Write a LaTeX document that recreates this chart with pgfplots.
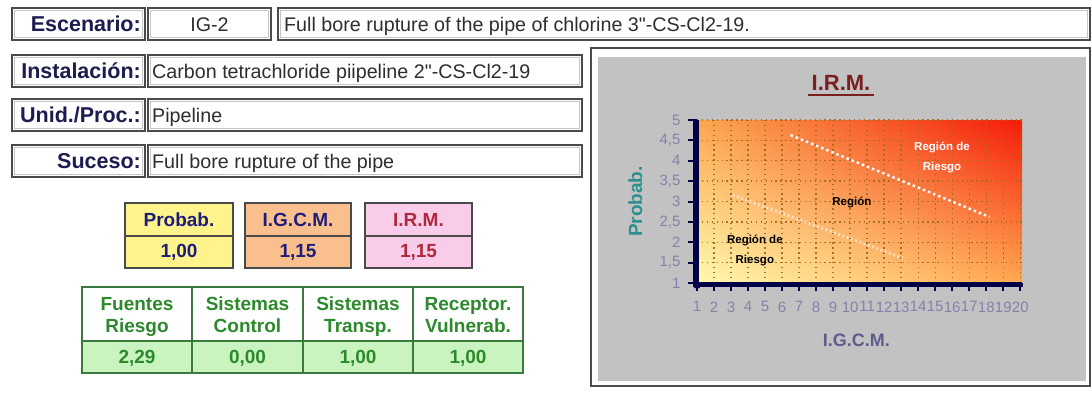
\documentclass[border=0pt]{standalone}
\usepackage{fontspec}
\setmainfont{Liberation Sans}
\newfontfamily\valf[Ligatures=TeXOff]{Liberation Sans}
\usepackage{pgfplots}
\pgfplotsset{compat=1.18}
\usetikzlibrary{shadings}
\colorlet{axisblue}{blue!28!black}
\definecolor{labnavy}{HTML}{1C1C50}
\definecolor{valtext}{HTML}{2E2E2E}
\definecolor{boxgray}{HTML}{4A4A4A}
\definecolor{probnavy}{HTML}{1E1E7A}
\definecolor{irmred}{HTML}{B0283C}
\definecolor{greentext}{HTML}{2C8A2C}
\definecolor{greenline}{HTML}{3D7A3D}
\definecolor{greenfill}{HTML}{C9F4C0}
\definecolor{yellowfill}{HTML}{FFF38C}
\definecolor{orangefill}{HTML}{F9C08E}
\definecolor{pinkfill}{HTML}{F9CDEA}
\definecolor{chartgray}{HTML}{C2C2C2}
\definecolor{titlered}{HTML}{7A1E1E}
\definecolor{tealc}{HTML}{2F8F8F}
\definecolor{xlabc}{HTML}{5C5C8E}
\definecolor{tickc}{HTML}{8282AC}
\definecolor{gridc}{rgb}{0.66,0.42,0.10}
\definecolor{bgll}{HTML}{FFFBB0}
\definecolor{bgul}{HTML}{FBA850}
\definecolor{bglr}{HTML}{FFA850}
\definecolor{bgur}{HTML}{F51A0A}
\newcommand\formbox[4]{%
  \draw[line width=2pt, draw=boxgray] (#1,#2) rectangle (#3,#4);
  \draw[line width=0.6pt, draw=gray!45] ({#1+2.5},{#2+2.5}) rectangle ({#3-2.5},{#4-2.5});}
\begin{document}
\begin{tikzpicture}
\begin{scope}[x=1pt,y=-1pt]
\path[use as bounding box, fill=white] (0,0) rectangle (1092,392);
\tikzset{lab/.style={font=\bfseries\fontsize{21.5}{24}\selectfont, text=labnavy, inner sep=0pt},
         val/.style={font=\valf\fontsize{19.7}{22}\selectfont, text=valtext, inner sep=0pt},
         sm/.style={font=\bfseries\fontsize{19}{20}\selectfont, inner sep=0pt},
         gr/.style={font=\bfseries\fontsize{19}{20}\selectfont, text=greentext, inner sep=0pt}}
% row 1
\formbox{12}{8}{145}{40}
\formbox{148}{8}{271}{40}
\formbox{278}{8}{1090}{40}
\node[lab, anchor=base east] at (141,31) {Escenario:};
\node[val, anchor=base] at (209.5,31) {IG-2};
\node[val, anchor=base west] at (284,31) {Full bore rupture of the pipe of chlorine 3"-CS-Cl2-19.};
% row 2
\formbox{12}{55}{145}{87}
\formbox{148}{55}{582}{87}
\node[lab, anchor=base east] at (141,78) {Instalación:};
\node[val, anchor=base west] at (152,78) {Carbon tetrachloride piipeline 2"-CS-Cl2-19};
% row 3
\formbox{12}{99}{145}{131}
\formbox{148}{99}{582}{131}
\node[lab, anchor=base east] at (141,122) {Unid./Proc.:};
\node[val, anchor=base west] at (152,122) {Pipeline};
% row 4
\formbox{12}{145}{145}{177}
\formbox{148}{145}{582}{177}
\node[lab, anchor=base east] at (141,168) {Suceso:};
\node[val, anchor=base west] at (152,168) {Full bore rupture of the pipe};
% index boxes
\fill[yellowfill] (125,203) rectangle (233,268);
\fill[orangefill] (245,203) rectangle (351,268);
\fill[pinkfill] (365,203) rectangle (472,268);
\foreach \a/\b in {125/233,245/351,365/472}{
  \draw[line width=2pt, draw=boxgray] (\a,203) rectangle (\b,268);
  \draw[line width=1.5pt, draw=boxgray] (\a,236) -- (\b,236);}
\node[sm, text=probnavy, anchor=base] at (179,226) {Probab.};
\node[sm, text=probnavy, anchor=base] at (179,257.5) {1,00};
\node[sm, text=probnavy, anchor=base] at (298,226) {I.G.C.M.};
\node[sm, text=probnavy, anchor=base] at (298,257.5) {1,15};
\node[sm, text=irmred, anchor=base] at (418.5,226) {I.R.M.};
\node[sm, text=irmred, anchor=base] at (418.5,257.5) {1,15};
% lower table
\fill[greenfill] (82,341) rectangle (523,373);
\draw[line width=2pt, draw=greenline] (82,287) rectangle (523,373);
\draw[line width=1.5pt, draw=greenline] (82,341) -- (523,341);
\foreach \x in {192,303,413} \draw[line width=1.5pt, draw=greenline] (\x,287) -- (\x,373);
\node[gr, anchor=base] at (137,310) {Fuentes};
\node[gr, anchor=base] at (137,332) {Riesgo};
\node[gr, anchor=base] at (247.5,310) {Sistemas};
\node[gr, anchor=base] at (247.5,332) {Control};
\node[gr, anchor=base] at (358,310) {Sistemas};
\node[gr, anchor=base] at (358,332) {Transp.};
\node[gr, anchor=base] at (468,310) {Receptor.};
\node[gr, anchor=base] at (468,332) {Vulnerab.};
\node[gr, anchor=base] at (137,363.5) {2,29};
\node[gr, anchor=base] at (247.5,363.5) {0,00};
\node[gr, anchor=base] at (358,363.5) {1,00};
\node[gr, anchor=base] at (468,363.5) {1,00};
% chart panel
\draw[line width=1.5pt, draw=gray!60!black] (591,48) rectangle (1090,386);
\fill[chartgray] (598,57) rectangle (1086,381);
\node[font=\bfseries\fontsize{22}{24}\selectfont, text=titlered, anchor=base, inner sep=0pt] at (841,90.5) {I.R.M.};
\draw[line width=1.3pt, draw=titlered] (808,95) -- (874,95);
% axis frame lines (drawn under the axis, slightly outside the plot box)
\draw[line width=3.5pt, draw=axisblue] (695,119) -- (695,285) -- (1023,285);
\foreach \j in {0,...,8} \draw[line width=2pt, draw=axisblue] (688,{283-20.375*\j}) -- (696,{283-20.375*\j});
\foreach \i in {0,...,19} \draw[line width=2pt, draw=axisblue] ({697+17.016*\i},284) -- ({697+17.016*\i},291);
\fill[axisblue] (697,285) circle (3.8);
\end{scope}
\begin{axis}[
  at={(697pt,-283pt)}, anchor=south west,
  scale only axis, width=325pt, height=163pt,
  xmin=1, xmax=20.1, ymin=1, ymax=5,
  clip=false,
  axis x line*=bottom, axis y line*=left,
  axis line style={line width=3pt, color=axisblue},
  axis background/.style={upper left=bgul, upper right=bgur, lower left=bgll, lower right=bglr},
  xtick={1,...,20}, ytick={1,1.5,...,5},
  tick align=outside, major tick length=6pt,
  major tick style={line width=1.8pt, color=axisblue},
  grid=major,
  major grid style={color=gridc, line width=1.4pt, dash pattern=on 1.4pt off 3.5pt, opacity=0.95},
  /pgf/number format/assume math mode=true,
  ticklabel style={font=\fontsize{15}{15}\selectfont, text=tickc},
  yticklabel={\pgfmathprintnumber[use comma]{\tick}},
  xticklabel style={yshift=-9pt},
  yticklabel style={xshift=-7pt},
]
\addplot[white, opacity=0.55, line width=3pt, dash pattern=on 2pt off 2.5pt] coordinates {(3.1,3.16) (13.1,1.61)};
\addplot[color=white, opacity=1, line width=2.4pt, dash pattern=on 2.5pt off 3pt] coordinates {(6.5,4.63) (18.2,2.62)};
\node[font=\bfseries\fontsize{11.5}{20}\selectfont, align=center, text=black] at (axis cs:4.4,1.81) {Región de\\Riesgo};
\node[font=\bfseries\fontsize{11.5}{20}\selectfont, text=black] at (axis cs:10.1,2.97) {Región};
\node[font=\bfseries\fontsize{11.5}{20}\selectfont, align=center, text=white] at (axis cs:15.4,4.07) {Región de\\Riesgo};
\node[rotate=90, font=\bfseries\fontsize{19}{20}\selectfont, text=tealc] at (axis description cs:-0.19,0.5) {Probab.};
\node[font=\bfseries\fontsize{18}{20}\selectfont, text=xlabc] at (axis description cs:0.49,-0.35) {I.G.C.M.};
\end{axis}
\end{tikzpicture}
\end{document}
